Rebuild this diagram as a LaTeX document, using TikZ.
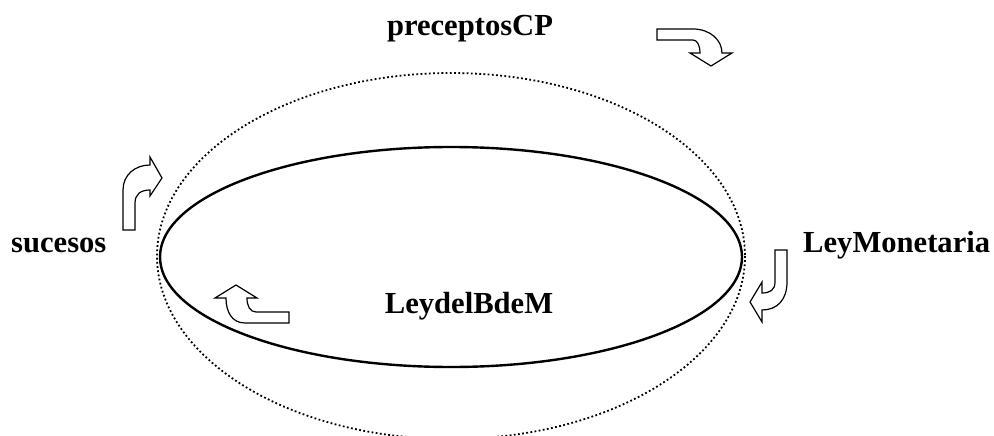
\documentclass[tikz,border=0pt]{standalone}
\usepackage{fontspec}
\setmainfont{Liberation Serif}
\begin{document}
\begin{tikzpicture}[x=1pt,y=-1pt,
  lbl/.style={font=\fontsize{30.6}{36}\selectfont\bfseries, inner sep=0pt},
  blockarrow/.style={draw=black, fill=white, line width=1.2pt, line join=miter},
  orbit/.style={line width=1.8pt, dash pattern=on 1.8pt off 2.4pt},
  ring/.style={line width=2.4pt}]
  \useasboundingbox (0,0) rectangle (994,436);
  \clip (0,0) rectangle (994,436);

  % centres of the two ellipses
  \coordinate (outer) at (451,256);
  \coordinate (inner) at (451,257);

  \draw[orbit] (outer) ellipse [x radius=294, y radius=183];
  \draw[ring] (inner) ellipse [x radius=291, y radius=110];

  % labels
  \node[lbl, anchor=base] (cp) at (470,36) {preceptosCP};
  \node[lbl, anchor=base west] (suc) at (11,252) {sucesos};
  \node[lbl, anchor=base west] (lm) at (803,252) {LeyMonetaria};
  \node[lbl, anchor=base] (bdm) at (469,313) {LeydelBdeM};

  % curved block arrows
  \draw[blockarrow] (657,29) -- (693,29) .. controls (710,29) and (722,40) .. (722,53)
    -- (732,53) -- (711,66) -- (690,53) -- (700,53)
    .. controls (700,45) and (697,40) .. (693,40) -- (657,40) -- cycle;

  \draw[blockarrow] (123,230) -- (123,190) .. controls (123,175) and (135,165) .. (150,165)
    -- (150,157) -- (162,178) -- (150,196) -- (150,190)
    .. controls (141,190) and (135,194) .. (135,203) -- (135,230) -- cycle;

  \draw[blockarrow] (787,250) -- (787,282) .. controls (787,300) and (777,310) .. (762,310)
    -- (762,322) -- (750,302) -- (762,282) -- (762,293)
    .. controls (770,293) and (775,290) .. (775,282) -- (775,250) -- cycle;

  \draw[blockarrow] (289,312) -- (289,323) -- (245,323) .. controls (232,323) and (226,312) .. (226,298)
    -- (215,298) -- (236,285) -- (257,298) -- (247,298)
    .. controls (247,306) and (250,312) .. (256,312) -- cycle;
\end{tikzpicture}
\end{document}
